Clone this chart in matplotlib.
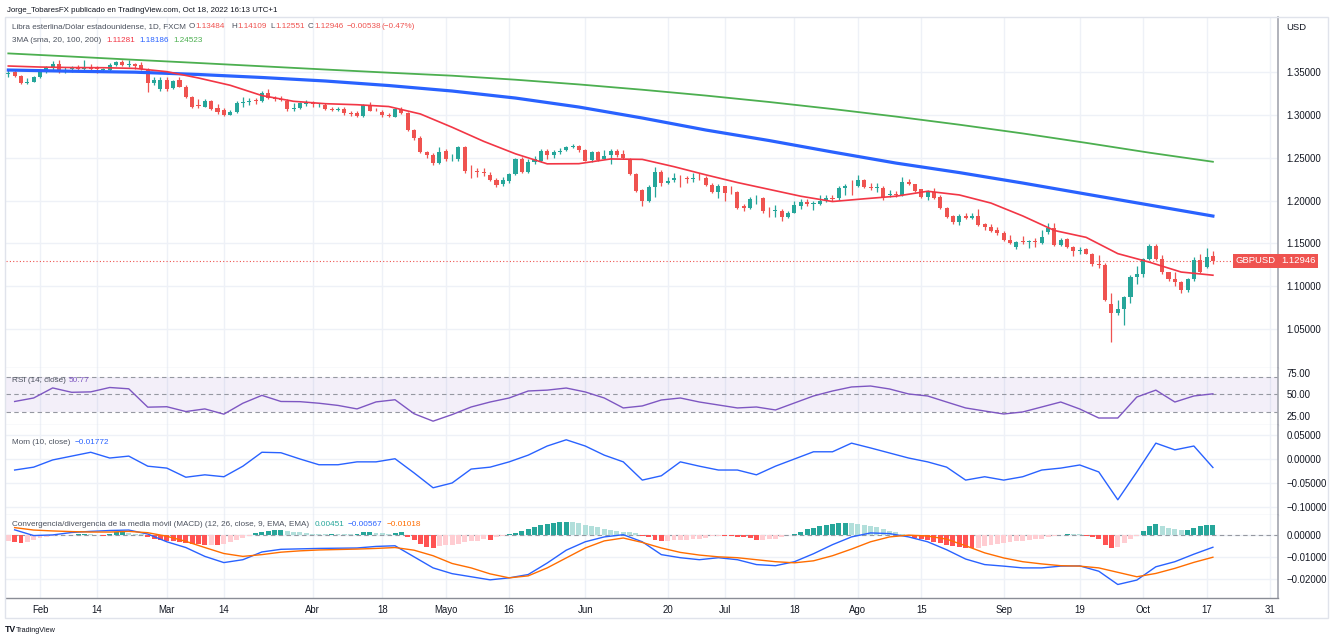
import numpy as np
import pandas as pd
import matplotlib
matplotlib.use("Agg")
import matplotlib.pyplot as plt
from matplotlib.patches import Rectangle

plt.rcParams['font.family'] = ['Liberation Sans Narrow', 'Liberation Sans', 'DejaVu Sans']

# ---------------- data (daily GBPUSD candles, 2022-01-25 .. 2022-10-18) ----------------
first_day = '2022-01-25'
opens = [1.3480,1.3497,1.3453,1.3370,1.3387,1.3440,1.3505,1.3562,1.3594,1.3530,
         1.3530,1.3545,1.3535,1.3550,1.3545,1.3525,1.3525,1.3582,1.3618,1.3583,
         1.3592,1.3578,1.3523,1.3370,1.3300,1.3410,1.3313,1.3407,1.3330,1.3212,
         1.3110,1.3095,1.3160,1.3075,1.3056,1.3000,1.3030,1.3140,1.3145,1.3170,
         1.3161,1.3251,1.3195,1.3185,1.3165,1.3070,1.3076,1.3128,1.3138,1.3110,
         1.3110,1.3068,1.3062,1.3064,1.3022,1.3020,1.2986,1.3115,1.3062,1.3036,
         1.3000,1.2978,1.3068,1.3018,1.2823,1.2726,1.2562,1.2531,1.2441,1.2577,
         1.2480,1.2480,1.2620,1.2350,1.2340,1.2335,1.2297,1.2239,1.2190,1.2227,
         1.2309,1.2480,1.2328,1.2453,1.2464,1.2580,1.2534,1.2570,1.2589,1.2620,
         1.2633,1.2589,1.2472,1.2569,1.2490,1.2534,1.2580,1.2540,1.2480,1.2309,
         1.2122,1.1990,1.2153,1.2336,1.2207,1.2239,1.2265,1.2260,1.2252,1.2268,
         1.2258,1.2180,1.2102,1.2168,1.2100,1.2102,1.1938,1.1908,1.2013,1.2025,
         1.1880,1.1876,1.1876,1.1810,1.1857,1.1940,1.1985,1.1960,1.1960,1.1995,
         1.2030,1.2025,1.2149,1.2175,1.2172,1.2239,1.2160,1.2148,1.2149,1.2060,
         1.2080,1.2063,1.2212,1.2188,1.2133,1.2044,1.2102,1.2044,1.1915,1.1822,
         1.1752,1.1822,1.1800,1.1822,1.1721,1.1693,1.1652,1.1617,1.1538,1.1460,
         1.1525,1.1510,1.1530,1.1500,1.1628,1.1674,1.1480,1.1550,1.1460,1.1410,
         1.1430,1.1371,1.1260,1.1246,1.0787,1.0682,1.0732,1.0876,1.1109,1.1148,
         1.1316,1.1471,1.1316,1.1160,1.1082,1.1044,1.0954,1.1082,1.1304,1.1226,
         1.13484]
highs = [1.3520,1.3520,1.3462,1.3430,1.3455,1.3520,1.3575,1.3630,1.3645,1.3560,
         1.3575,1.3580,1.3645,1.3595,1.3565,1.3545,1.3600,1.3625,1.3640,1.3640,
         1.3610,1.3620,1.3545,1.3440,1.3440,1.3440,1.3410,1.3438,1.3350,1.3220,
         1.3185,1.3185,1.3170,1.3130,1.3080,1.3060,1.3160,1.3210,1.3200,1.3200,
         1.3280,1.3298,1.3220,1.3215,1.3180,1.3135,1.3150,1.3175,1.3160,1.3135,
         1.3135,1.3090,1.3090,1.3090,1.3045,1.3040,1.3125,1.3145,1.3075,1.3055,
         1.3020,1.3085,1.3090,1.3030,1.2840,1.2750,1.2580,1.2560,1.2620,1.2600,
         1.2540,1.2635,1.2640,1.2410,1.2380,1.2380,1.2335,1.2260,1.2275,1.2320,
         1.2500,1.2505,1.2480,1.2525,1.2600,1.2598,1.2590,1.2610,1.2640,1.2665,
         1.2650,1.2600,1.2580,1.2575,1.2590,1.2600,1.2600,1.2595,1.2500,1.2320,
         1.2140,1.2180,1.2394,1.2360,1.2280,1.2325,1.2300,1.2290,1.2320,1.2320,
         1.2290,1.2200,1.2190,1.2170,1.2165,1.2110,1.1965,1.2040,1.2060,1.2040,
         1.1920,1.1945,1.1900,1.1880,1.2000,1.2020,1.2015,1.2000,1.2065,1.2060,
         1.2060,1.2165,1.2190,1.2245,1.2293,1.2250,1.2200,1.2205,1.2165,1.2125,
         1.2115,1.2275,1.2250,1.2190,1.2140,1.2120,1.2145,1.2070,1.1930,1.1830,
         1.1845,1.1855,1.1860,1.1900,1.1740,1.1720,1.1690,1.1640,1.1595,1.1530,
         1.1590,1.1540,1.1560,1.1650,1.1740,1.1738,1.1560,1.1560,1.1470,1.1460,
         1.1450,1.1390,1.1365,1.1273,1.0924,1.0835,1.0885,1.1125,1.1235,1.1330,
         1.1495,1.1495,1.1360,1.1170,1.1160,1.1065,1.1100,1.1340,1.1380,1.1440,
         1.14109]
lows = [1.3440,1.3440,1.3358,1.3360,1.3380,1.3435,1.3490,1.3520,1.3490,1.3490,
        1.3500,1.3510,1.3520,1.3500,1.3490,1.3505,1.3515,1.3570,1.3575,1.3560,
        1.3535,1.3525,1.3272,1.3350,1.3275,1.3275,1.3300,1.3320,1.3200,1.3080,
        1.3080,1.3090,1.3060,1.3010,1.2982,1.2995,1.3020,1.3090,1.3115,1.3130,
        1.3150,1.3180,1.3160,1.3165,1.3050,1.3050,1.3070,1.3100,1.3090,1.3090,
        1.3055,1.3040,1.3045,1.3000,1.2990,1.2975,1.2975,1.3040,1.3040,1.2970,
        1.2975,1.2970,1.3010,1.2815,1.2705,1.2550,1.2500,1.2410,1.2430,1.2460,
        1.2460,1.2460,1.2325,1.2260,1.2280,1.2290,1.2230,1.2155,1.2165,1.2210,
        1.2300,1.2320,1.2320,1.2425,1.2450,1.2480,1.2500,1.2545,1.2580,1.2610,
        1.2570,1.2460,1.2450,1.2460,1.2480,1.2430,1.2510,1.2480,1.2300,1.2100,
        1.1935,1.1985,1.2040,1.2170,1.2190,1.2220,1.2160,1.2200,1.2220,1.2240,
        1.2165,1.2090,1.2030,1.2000,1.2080,1.1900,1.1875,1.1900,1.1960,1.1860,
        1.1810,1.1810,1.1760,1.1795,1.1850,1.1900,1.1935,1.1890,1.1950,1.1985,
        1.1990,1.2010,1.2060,1.2065,1.2160,1.2150,1.2120,1.2100,1.2005,1.2040,
        1.2040,1.2055,1.2180,1.2100,1.2030,1.2010,1.2020,1.1905,1.1800,1.1720,
        1.1715,1.1780,1.1785,1.1700,1.1650,1.1630,1.1600,1.1530,1.1490,1.1430,
        1.1490,1.1440,1.1460,1.1490,1.1610,1.1470,1.1470,1.1445,1.1352,1.1380,
        1.1375,1.1235,1.1210,1.0830,1.0350,1.0660,1.0545,1.0800,1.1030,1.1110,
        1.1300,1.1300,1.1145,1.1060,1.1000,1.0925,1.0935,1.1060,1.1150,1.1210,
        1.12551]
closes = [1.3490,1.3455,1.3372,1.3380,1.3440,1.3503,1.3560,1.3594,1.3512,1.3535,
          1.3545,1.3535,1.3548,1.3540,1.3530,1.3532,1.3582,1.3613,1.3585,1.3590,
          1.3575,1.3535,1.3375,1.3407,1.3407,1.3300,1.3395,1.3330,1.3212,1.3095,
          1.3100,1.3160,1.3070,1.3036,1.3000,1.3036,1.3141,1.3150,1.3165,1.3160,
          1.3251,1.3193,1.3185,1.3178,1.3068,1.3080,1.3134,1.3138,1.3122,1.3118,
          1.3064,1.3062,1.3070,1.3018,1.3015,1.2990,1.3115,1.3048,1.3055,1.2998,
          1.2986,1.3068,1.3020,1.2823,1.2726,1.2562,1.2532,1.2441,1.2562,1.2480,
          1.2490,1.2620,1.2347,1.2340,1.2333,1.2320,1.2239,1.2180,1.2245,1.2309,
          1.2480,1.2328,1.2453,1.2480,1.2580,1.2534,1.2570,1.2582,1.2620,1.2633,
          1.2589,1.2464,1.2569,1.2472,1.2520,1.2580,1.2534,1.2495,1.2309,1.2114,
          1.1990,1.2153,1.2336,1.2207,1.2227,1.2265,1.2258,1.2252,1.2265,1.2260,
          1.2180,1.2102,1.2165,1.2083,1.2095,1.1908,1.1908,1.2013,1.2020,1.1876,
          1.1872,1.1890,1.1810,1.1855,1.1947,1.1985,1.1960,1.1968,1.1995,1.2025,
          1.2022,1.2149,1.2172,1.2168,1.2239,1.2160,1.2150,1.2160,1.2044,1.2075,
          1.2070,1.2212,1.2190,1.2110,1.2044,1.2102,1.2033,1.1915,1.1810,1.1752,
          1.1822,1.1800,1.1822,1.1713,1.1693,1.1643,1.1617,1.1538,1.1505,1.1510,
          1.1510,1.1530,1.1510,1.1576,1.1674,1.1480,1.1538,1.1460,1.1410,1.1420,
          1.1380,1.1254,1.1250,1.0837,1.0682,1.0732,1.0876,1.1109,1.1148,1.1316,
          1.1471,1.1316,1.1160,1.1082,1.1044,1.0954,1.1082,1.1304,1.1168,1.1343,
          1.12946]

# moving averages (SMA20 every 5th bar, SMA100/SMA200 every 10th bar)
sma20_every5 = [1.3570,1.3558,1.3552,1.3550,1.3542,1.3504,1.3430,1.3345,1.3225,1.3158,
                1.3130,1.3118,1.3097,1.3010,1.2855,1.2690,1.2545,1.2428,1.2430,1.2485,
                1.2480,1.2395,1.2300,1.2210,1.2130,1.2050,1.1988,1.2020,1.2050,1.2108,
                1.2065,1.1970,1.1820,1.1650,1.1570,1.1380,1.1280,1.1165,1.11281]
sma100_every10 = [1.3523,1.3509,1.3498,1.3471,1.3436,1.3395,1.3342,1.3278,1.3196,1.3091,
                  1.2963,1.2823,1.2700,1.2566,1.2437,1.2326,1.2204,1.2075,1.1947,1.18186]
sma200_every10 = [1.3717,1.3680,1.3642,1.3605,1.3567,1.3529,1.3492,1.3457,1.3410,1.3355,
                  1.3293,1.3225,1.3150,1.3068,1.2980,1.2885,1.2783,1.2673,1.2558,1.24523]

# oscillators read every 3rd bar (bars 1, 4, 7, ...)
rsi_every3 = [42,46,57.5,52.5,53,58,56.5,35.5,36,30.5,33.5,27.5,40,49,42,41.8,40,37.5,33.5,41.5,
              44,28,19.5,27,35.7,41.4,46,54,55,57.4,52.9,46,34.6,36.9,43.7,46,41.4,38,34.6,35.7,
              32.3,40.3,48.3,54,58.6,59.7,56.3,50.6,48.3,41.4,34.6,31.1,27.7,30,35.7,41.4,33.4,23.1,
              23.1,47.1,55,41.4,48.3,50.77]
mom_every3 = [-0.023,-0.017,-0.002,0.006,0.014,0.002,0.006,-0.015,-0.019,-0.038,
              -0.033,-0.037,-0.015,0.014,0.013,0.000,-0.012,-0.012,-0.006,-0.006,
              0.0005,-0.029,-0.060,-0.050,-0.021,-0.017,-0.006,0.008,0.027,0.040,
              0.027,0.008,-0.006,-0.044,-0.035,-0.006,-0.015,-0.023,-0.023,-0.033,
              -0.015,0.000,0.015,0.015,0.033,0.023,0.0125,0.002,-0.006,-0.017,
              -0.044,-0.037,-0.044,-0.037,-0.023,-0.019,-0.0125,-0.027,-0.085,-0.027,
              0.033,0.019,0.027,-0.01772]
macd_every3 = [0.0022,-0.0004,-0.0001,0.0010,0.0015,0.0019,0.0021,0.0003,-0.0032,-0.0058,
               -0.0098,-0.0126,-0.0113,-0.0078,-0.0066,-0.0064,-0.0062,-0.0061,-0.0060,-0.0053,
               -0.0050,-0.0100,-0.0150,-0.0176,-0.0190,-0.0204,-0.0195,-0.0180,-0.0128,-0.0070,
               -0.0032,-0.0010,0.0000,-0.0032,-0.0090,-0.0104,-0.0113,-0.0104,-0.0113,-0.0135,
               -0.0140,-0.0122,-0.0086,-0.0045,-0.0010,0.0008,0.0005,-0.0010,-0.0032,-0.0068,
               -0.0110,-0.0135,-0.0142,-0.0150,-0.0150,-0.0142,-0.0141,-0.0165,-0.0225,-0.0205,
               -0.0145,-0.0122,-0.0088,-0.00567]
signal_every3 = [0.0032,0.0021,0.0017,0.0014,0.0012,0.0012,0.0015,0.0009,-0.0007,-0.0030,
                 -0.0058,-0.0085,-0.0098,-0.0090,-0.0079,-0.0073,-0.0069,-0.0067,-0.0065,-0.0062,
                 -0.0058,-0.0070,-0.0095,-0.0130,-0.0150,-0.0177,-0.0195,-0.0186,-0.0150,-0.0105,
                 -0.0060,-0.0028,-0.0015,-0.0035,-0.0060,-0.0080,-0.0092,-0.0100,-0.0104,-0.0113,
                 -0.0122,-0.0127,-0.0118,-0.0095,-0.0065,-0.0032,-0.0010,-0.0002,-0.0006,-0.0020,
                 -0.0050,-0.0082,-0.0105,-0.0122,-0.0132,-0.0140,-0.0142,-0.0150,-0.0170,-0.0190,
                 -0.0175,-0.0152,-0.0125,-0.01018]
macd_hist = [-0.0030,-0.0033,-0.0036,-0.0032,-0.0024,-0.0016,-0.0009,-0.0005,-0.0003,-0.0002,
             -0.0001,0.0001,0.0002,0.0001,-0.0002,-0.0004,0.0005,0.0010,0.0012,0.0009,
             0.0005,0.0002,-0.0010,-0.0018,-0.0022,-0.0028,-0.0030,-0.0032,-0.0036,-0.0040,
             -0.0044,-0.0046,-0.0045,-0.0047,-0.0040,-0.0032,-0.0026,-0.0015,-0.0005,0.0006,
             0.0013,0.0015,0.0022,0.0023,0.0018,0.0014,0.0010,0.0007,0.0005,0.0004,
             0.0003,0.0004,0.0004,0.0003,0.0002,0.0004,0.0010,0.0012,0.0009,0.0006,
             0.0005,0.0009,0.0010,-0.0012,-0.0025,-0.0040,-0.0056,-0.0060,-0.0052,-0.0046,
             -0.0045,-0.0040,-0.0034,-0.0030,-0.0028,-0.0020,-0.0023,-0.0012,-0.0005,0.0004,
             0.0008,0.0018,0.0026,0.0034,0.0042,0.0048,0.0052,0.0056,0.0058,0.0057,
             0.0052,0.0045,0.0040,0.0035,0.0028,0.0022,0.0018,0.0014,0.0010,0.0006,
             -0.0004,-0.0012,-0.0022,-0.0030,-0.0028,-0.0026,-0.0024,-0.0023,-0.0021,-0.0020,
             -0.0014,-0.0008,-0.0004,-0.0005,-0.0008,-0.0009,-0.0012,-0.0016,-0.0022,-0.0022,
             -0.0020,-0.0018,-0.0010,-0.0002,0.0005,0.0014,0.0024,0.0032,0.0038,0.0045,
             0.0050,0.0053,0.0055,0.0055,0.0050,0.0045,0.0040,0.0033,0.0026,0.0015,
             0.0010,0.0004,-0.0008,-0.0015,-0.0018,-0.0026,-0.0033,-0.0038,-0.0048,-0.0053,
             -0.0057,-0.0060,-0.0061,-0.0058,-0.0053,-0.0048,-0.0043,-0.0037,-0.0033,-0.0030,
             -0.0028,-0.0024,-0.0021,-0.0018,-0.0012,-0.0008,-0.0002,0.0001,0.0001,0.0001,
             -0.0004,-0.0012,-0.0018,-0.0045,-0.0062,-0.0055,-0.0038,-0.0020,-0.0005,0.0018,
             0.0038,0.0048,0.0040,0.0030,0.0026,0.0020,0.0022,0.0030,0.0038,0.0043,
             0.00451]

tick_dates = ['2022-02-01','2022-02-14','2022-03-01','2022-03-14','2022-04-01','2022-04-18',
              '2022-05-02','2022-05-16','2022-06-01','2022-06-20','2022-07-01','2022-07-18',
              '2022-08-01','2022-08-15','2022-09-01','2022-09-19','2022-10-03','2022-10-17',
              '2022-10-31']
tick_labels = ['Feb','14','Mar','14','Abr','18','Mayo','16','Jun','20','Jul','18',
               'Ago','15','Sep','19','Oct','17','31']
price_ticks = [1.05, 1.10, 1.15, 1.20, 1.25, 1.30, 1.35]
rsi_ticks = [25, 50, 75]
mom_ticks = [-0.10, -0.05, 0.0, 0.05]
macd_ticks = [-0.02, -0.01, 0.0]

# ---------------- setup ----------------
O = np.array(opens); Hh = np.array(highs); L = np.array(lows); C = np.array(closes)
n = len(C)
pos = np.arange(n)
all_days = pd.bdate_range(first_day, '2022-11-15')
tick_pos = [all_days.get_loc(pd.Timestamp(d)) for d in tick_dates]

W, H = 1332, 641
fig = plt.figure(figsize=(W / 100, H / 100), dpi=100)
fig.patch.set_facecolor('white')

def rect(x0, y0, x1, y1):
    return [x0 / W, 1 - y1 / H, (x1 - x0) / W, (y1 - y0) / H]

UP, DOWN = '#26A69A', '#EF5350'
GRID = '#EEF1F7'
TXT = '#131722'
LEG = '#4C525E'
AXIS = '#A3A6AF'

X0, X1 = 6, 1278
first_px, bar_px = 8.3, 6.34
xlim = ((X0 - first_px) / bar_px, (X1 - first_px) / bar_px)

ax_p = fig.add_axes(rect(X0, 17, X1, 368))
ax_r = fig.add_axes(rect(X0, 368, X1, 425))
ax_m = fig.add_axes(rect(X0, 425, X1, 515))
ax_d = fig.add_axes(rect(X0, 515, X1, 598))

def fmt5(v):
    return f"{v:.5f}".replace('-', '\u2212')

for ax in (ax_p, ax_r, ax_m, ax_d):
    ax.set_xlim(*xlim)
    ax.set_facecolor('white')
    ax.set_xticks(tick_pos)
    ax.grid(axis='x', color=GRID, lw=1.0, zorder=0)
    ax.yaxis.tick_right()
    ax.tick_params(axis='y', length=0, pad=6, labelsize=6.9, labelcolor=TXT)
    ax.tick_params(axis='x', length=0)
    for s in ('left', 'top'):
        ax.spines[s].set_visible(False)
    ax.spines['bottom'].set_color('#E0E3EB')
    ax.spines['bottom'].set_linewidth(1.0)
    ax.spines['right'].set_color(AXIS)
    ax.spines['right'].set_linewidth(1.2)
    ax.set_axisbelow(True)
for ax in (ax_p, ax_r, ax_m):
    ax.set_xticklabels([])
ax_d.set_xticklabels(tick_labels, fontsize=6.9, color=TXT)
ax_d.tick_params(axis='x', pad=5)
ax_d.spines['bottom'].set_color('#8A8D96')

# ---------------- price panel ----------------
ax_p.set_ylim(1.0045, 1.4142)
ax_p.set_yticks(price_ticks)
ax_p.set_yticklabels([fmt5(v) for v in price_ticks])
ax_p.grid(axis='y', color=GRID, lw=1.0, zorder=0)

col = np.where(C >= O, UP, DOWN)
ax_p.vlines(pos, L, Hh, colors=col, lw=0.9, zorder=3)
body_lo = np.minimum(O, C)
body_h = np.maximum(np.abs(C - O), 0.00035)
ax_p.bar(pos, body_h, bottom=body_lo, width=0.64, color=col, linewidth=0, zorder=4)

ax_p.plot(pos[::10], sma200_every10, color='#4CAF50', lw=1.3, zorder=5)
ax_p.plot(pos[::10], sma100_every10, color='#2962FF', lw=2.3, zorder=5)
ax_p.plot(pos[::5], sma20_every5, color='#F23645', lw=1.2, zorder=6)

last = C[-1]
ax_p.axhline(last, color=DOWN, lw=0.8, ls=(0, (1, 2)), zorder=2)
ax_p.text(0.9985, last, 'GBPUSD', transform=ax_p.get_yaxis_transform(), ha='right', va='center',
          fontsize=6.8, color='white', zorder=10,
          bbox=dict(boxstyle='square,pad=0.3', fc=DOWN, ec='none'))
ax_p.text(1.0025, last, fmt5(last), transform=ax_p.get_yaxis_transform(), ha='left', va='center',
          fontsize=6.8, color='white', zorder=10, clip_on=False,
          bbox=dict(boxstyle='square,pad=0.3', fc=DOWN, ec='none'))

# ---------------- RSI ----------------
ax_r.set_ylim(15.1, 80.3)
ax_r.set_yticks(rsi_ticks)
ax_r.set_yticklabels([f"{v:.2f}" for v in rsi_ticks])
ax_r.axhspan(30, 70, color='#7E57C2', alpha=0.09, lw=0, zorder=1)
for lev in (70, 50, 30):
    ax_r.axhline(lev, color='#9598A1', lw=0.8, ls=(0, (4, 3)), zorder=2)
ax_r.plot(pos[1::3], rsi_every3, color='#7E57C2', lw=1.0, zorder=4)

# ---------------- Momentum ----------------
ax_m.set_ylim(-0.1167, 0.0708)
ax_m.set_yticks(mom_ticks)
ax_m.set_yticklabels([fmt5(v) for v in mom_ticks])
ax_m.grid(axis='y', color=GRID, lw=1.0, zorder=0)
ax_m.plot(pos[1::3], mom_every3, color='#2962FF', lw=1.0, zorder=4)

# ---------------- MACD ----------------
ax_d.set_ylim(-0.0286, 0.0089)
ax_d.set_yticks(macd_ticks)
ax_d.set_yticklabels([fmt5(v) for v in macd_ticks])
ax_d.grid(axis='y', color=GRID, lw=1.0, zorder=0)
ax_d.axhline(0, color='#9598A1', lw=0.8, ls=(0, (4, 3)), zorder=2)
hist = np.array(macd_hist)
prev = np.concatenate([[hist[0]], hist[:-1]])
hcol = np.where(hist >= 0, np.where(hist > prev, '#26A69A', '#B2DFDB'),
                np.where(hist < prev, '#FF5252', '#FFCDD2'))
ax_d.bar(pos, hist, width=0.78, color=hcol, linewidth=0, zorder=3)
ax_d.plot(pos[1::3], macd_every3, color='#2962FF', lw=1.0, zorder=5)
ax_d.plot(pos[1::3], signal_every3, color='#FF6D00', lw=1.0, zorder=5)

# ---------------- texts ----------------
fig.canvas.draw()
renderer = fig.canvas.get_renderer()

def fit_size(s, width, base=8.0):
    t = fig.text(0, 0, s, fontsize=base)
    w = t.get_window_extent(renderer=renderer).width
    t.remove()
    return base * width / w

LEG_SIZE = fit_size('Libra esterlina/Dólar estadounidense, 1D, FXCM', 175)
HEAD_SIZE = fit_size('Jorge_TobaresFX publicado en TradingView.com, Oct 18, 2022 16:13 UTC+1', 273)

def put(x, y, s, color, size=None, weight='normal'):
    return fig.text(x / W, 1 - y / H, s, color=color, fontsize=size or LEG_SIZE,
                    va='center', ha='left', fontweight=weight)

put(7, 10, 'Jorge_TobaresFX publicado en TradingView.com, Oct 18, 2022 16:13 UTC+1', TXT, HEAD_SIZE)
put(12, 27, 'Libra esterlina/Dólar estadounidense, 1D, FXCM', LEG)
put(189, 27, 'O', LEG); put(195, 27, '1.13484', DOWN)
put(231, 27, 'H', LEG); put(237, 27, '1.14109', DOWN)
put(270, 27, 'L', LEG); put(275, 27, '1.12551', DOWN)
put(308, 27, 'C', LEG); put(314, 27, '1.12946', DOWN)
put(347, 27, '\u22120.00538', DOWN)
put(381, 27, '(\u22120.47%)', DOWN)
put(12, 40, '3MA (sma, 20, 100, 200)', LEG)
put(106, 40, '1.11281', '#F23645')
put(139, 40, '1.18186', '#2962FF')
put(173, 40, '1.24523', '#4CAF50')
put(12, 381, 'RSI (14, close)', LEG)
put(69, 381, '50.77', '#7E57C2')
put(12, 442, 'Mom (10, close)', LEG)
put(75, 442, '\u22120.01772', '#2962FF')
put(12, 524, 'Convergencia/divergencia de la media móvil (MACD) (12, 26, close, 9, EMA, EMA)', LEG)
put(315, 524, '0.00451', '#26A69A')
put(348, 524, '\u22120.00567', '#2962FF')
put(387, 524, '\u22120.01018', '#FF6D00')
put(1286, 27, 'USD', TXT, 6.8)
put(5, 630, 'TV', TXT, LEG_SIZE + 0.5, 'bold')
put(16, 630, 'TradingView', TXT, fit_size('TradingView', 40))

fig.patches.append(Rectangle((5 / W, 1 - 618 / H), 1323 / W, 601 / H, transform=fig.transFigure,
                             fill=False, ec='#E0E3EB', lw=1.0))

fig.savefig('out.png', dpi=100, facecolor='white')
